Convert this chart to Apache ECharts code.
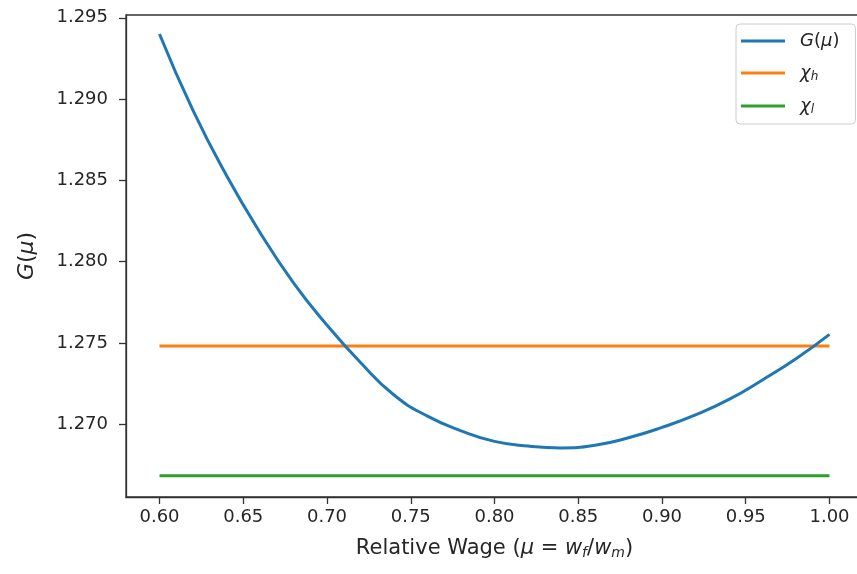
<!DOCTYPE html>
<html>
<head>
<meta charset="utf-8">
<script src="https://cdn.jsdelivr.net/npm/echarts@6/dist/echarts.min.js"></script>
<style>
  html, body { margin: 0; padding: 0; background: #fff; overflow: hidden; }
  #container { width: 857px; height: 574px; }
</style>
</head>
<body>
<div id="container"></div>
<script>
// relative wage grid and G(mu)
const muValues = [0.60, 0.62, 0.64, 0.66, 0.68, 0.70, 0.72, 0.74, 0.76, 0.78,
  0.80, 0.82, 0.84, 0.86, 0.88, 0.90, 0.92, 0.94, 0.96, 0.98, 1.00];
const gValues = [1.2940, 1.2893, 1.2853, 1.2818, 1.2787, 1.2761, 1.2738, 1.27180,
  1.27050, 1.26960, 1.26895, 1.26866, 1.26855, 1.26871, 1.26917, 1.26981,
  1.27058, 1.27153, 1.27273, 1.27403, 1.27553];
const chiH = 1.27482;
const chiL = 1.26684;

const xTicks = [0.60, 0.65, 0.70, 0.75, 0.80, 0.85, 0.90, 0.95, 1.00];
const yTicks = [1.270, 1.275, 1.280, 1.285, 1.290, 1.295];

const font = "DejaVu Sans";
const textColor = "#262626";
const axisColor = "#333";

const legendNames = {
  G: "{i|G}({i|μ})",
  chiH: "{i|χ}{s|h}",
  chiL: "{i|χ}{s|l}",
};

const gData = muValues.map((m, i) => [m, gValues[i]]);
const first = muValues[0], last = muValues[muValues.length - 1];

const axisLineStyle = { color: axisColor, width: 1.3 };

const option = {
  animation: false,
  textStyle: { fontFamily: font },
  grid: {
    left: 126,
    top: 15,
    right: -6,
    bottom: 77,
    outerBoundsMode: "none",
    show: true,
    borderColor: axisColor,
    borderWidth: 1.3,
  },
  legend: {
    orient: "vertical",
    left: 736,
    top: 24,
    icon: "rect",
    itemWidth: 44,
    itemHeight: 3,
    itemGap: 14,
    padding: [8, 16, 8, 5],
    borderColor: "#ccc",
    borderWidth: 1,
    borderRadius: 4,
    backgroundColor: "rgba(255,255,255,0.8)",
    formatter: (name) => legendNames[name],
    textStyle: {
      fontFamily: font,
      fontSize: 18,
      color: textColor,
      padding: [0, 0, 0, 10],
      rich: {
        i: { fontFamily: font, fontStyle: "italic", fontSize: 18, color: textColor },
        s: { fontFamily: font, fontStyle: "italic", fontSize: 12, color: textColor, padding: [8, 0, 0, 0] },
      },
    },
    data: ["G", "chiH", "chiL"],
  },
  xAxis: {
    type: "value",
    min: 0.58,
    max: 1.02,
    name: "Relative Wage ({i|μ} = {i|w}{s|f}/{i|w}{s|m})",
    nameLocation: "middle",
    nameGap: 40,
    nameTextStyle: {
      fontFamily: font,
      fontSize: 21,
      color: textColor,
      rich: {
        i: { fontFamily: font, fontStyle: "italic", fontSize: 21, color: textColor },
        s: { fontFamily: font, fontStyle: "italic", fontSize: 14, color: textColor, padding: [9, 0, 0, 0] },
      },
    },
    splitLine: { show: false },
    axisLine: { show: true, lineStyle: axisLineStyle },
    axisTick: {
      show: true,
      customValues: xTicks,
      length: 7,
      lineStyle: axisLineStyle,
    },
    axisLabel: {
      customValues: xTicks,
      margin: 11,
      fontSize: 18,
      color: textColor,
      fontFamily: font,
      formatter: (v) => v.toFixed(2),
    },
  },
  yAxis: {
    type: "value",
    min: 1.26553,
    max: 1.29517,
    name: "{i|G}({i|μ})",
    nameLocation: "middle",
    nameGap: 88,
    nameRotate: 90,
    nameTextStyle: {
      fontFamily: font,
      fontSize: 22,
      color: textColor,
      rich: {
        i: { fontFamily: font, fontStyle: "italic", fontSize: 22, color: textColor },
      },
    },
    splitLine: { show: false },
    axisLine: { show: true, lineStyle: axisLineStyle },
    axisTick: {
      show: true,
      customValues: yTicks,
      length: 7,
      lineStyle: axisLineStyle,
    },
    axisLabel: {
      customValues: yTicks,
      margin: 18,
      fontSize: 18,
      color: textColor,
      fontFamily: font,
      formatter: (v) => v.toFixed(3),
    },
  },
  series: [
    {
      name: "G",
      type: "line",
      data: gData,
      smooth: 0.5,
      showSymbol: false,
      lineStyle: { color: "#1f77b4", width: 3 },
      itemStyle: { color: "#1f77b4" },
      z: 3,
    },
    {
      name: "chiH",
      type: "line",
      data: [[first, chiH], [last, chiH]],
      showSymbol: false,
      lineStyle: { color: "#ff7f0e", width: 3 },
      itemStyle: { color: "#ff7f0e" },
      z: 2,
    },
    {
      name: "chiL",
      type: "line",
      data: [[first, chiL], [last, chiL]],
      showSymbol: false,
      lineStyle: { color: "#2ca02c", width: 3 },
      itemStyle: { color: "#2ca02c" },
      z: 2,
    },
  ],
};

const chart = echarts.init(document.getElementById("container"));
chart.setOption(option);
</script>
</body>
</html>
